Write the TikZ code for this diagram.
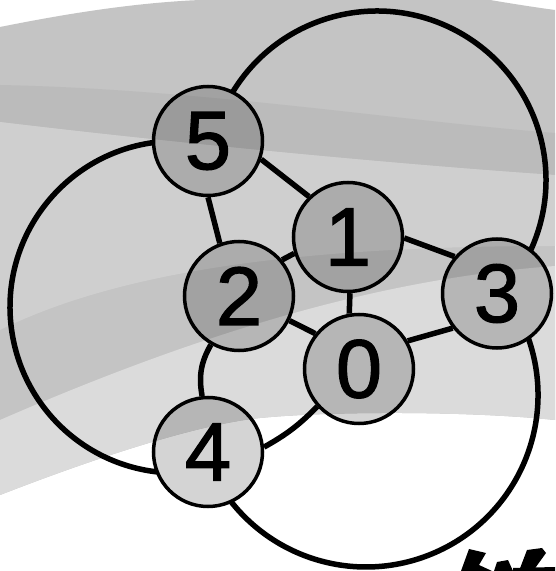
\documentclass[tikz,border=0pt]{standalone}
\usepackage{fontspec}
\setmainfont{Liberation Sans}
\newfontface\numfont[FakeBold=1.5]{Liberation Sans}
\pgfdeclarelayer{bg}
\pgfdeclarelayer{edges}
\pgfsetlayers{bg,edges,main}
\definecolor{cBase}{HTML}{C4C4C4}
\definecolor{cDark}{HTML}{BBBBBB}
\definecolor{cLight}{HTML}{CFCFCF}
\definecolor{cPale}{HTML}{DBDBDB}
\begin{document}
\begin{tikzpicture}[x=1pt,y=1pt,
  num/.style={circle, draw=black, line width=3.5pt, fill=black, fill opacity=0.17,
    text opacity=1, minimum size=109pt, inner sep=0pt,
    font=\numfont\fontsize{83}{83}\selectfont},
  link/.style={line width=5.5pt, draw=black},
  glyph/.style={fill=black}]
\useasboundingbox (0,0) rectangle (555,571);

% nodes
\node[num] (n5) at (208,430) {5};
\node[num] (n1) at (348,334) {1};
\node[num] (n3) at (497,277.5) {3};
\node[num] (n2) at (239,275) {2};
\node[num] (n0) at (359,202) {0};
\node[num] (n4) at (208,119) {4};

% centres of the large arcs
\coordinate (cT) at (377,391);
\coordinate (cL) at (176,264);
\coordinate (cB) at (366,176);

\begin{pgfonlayer}{bg}
  \fill[white] (0,0) rectangle (555,571);
  \fill[cBase] (0,544) .. controls (60,556) and (130,568) .. (200,571)
    -- (490,571) .. controls (520,566) and (540,563) .. (555,561)
    -- (555,151) .. controls (470,160) and (330,160) .. (260,153)
    .. controls (200,147) and (100,115) .. (0,76) -- cycle;
  \fill[cDark] (0,486) .. controls (200,482) and (400,450) .. (555,438)
    -- (555,396) .. controls (420,405) and (200,425) .. (0,449) -- cycle;
  \fill[cLight] (0,449) .. controls (200,425) and (420,405) .. (555,396)
    -- (555,325) .. controls (300,325) and (120,300) .. (0,241) -- cycle;
  \fill[cPale] (555,305) .. controls (420,295) and (250,260) .. (0,151)
    -- (0,76) .. controls (100,115) and (200,147) .. (260,153)
    .. controls (330,160) and (470,160) .. (555,151) -- cycle;
\end{pgfonlayer}

\begin{pgfonlayer}{edges}
  \draw[link] (n5.-19) -- (n1.134);
  \draw[link] (n5.-90) -- (n2.110);
  \draw[link] (n2.40) -- (n1.197);
  \draw[link] (n1.-88) -- (n0.100);
  \draw[link] (n1.-1) -- (n3.139);
  \draw[link] (n2.-26) -- (n0.141);
  \draw[link] (n0.30) -- (n3.-142);
  \draw[link] (n2.-120) to[bend right=20] (n4.96);
  \draw[link] (n0.-138) to[bend left=8] (n4.5);
  \draw[link] ([shift={(148.8:169)}]cT) arc[start angle=148.8, end angle=-24.6, radius=169];
  \draw[link] ([shift={(97.8:166)}]cL) arc[start angle=97.8, end angle=263.4, radius=166];
  \draw[link] ([shift={(19.4:172)}]cB) arc[start angle=19.4, end angle=-141.4, radius=172];
\end{pgfonlayer}

% cropped glyph at the lower right
\fill[glyph] (469,22) -- (486,18) -- (479,6) -- (492,0) -- (461,0) -- cycle;
\fill[glyph] (497,9) -- (508,11) -- (513,0) -- (494,0) -- cycle;
\fill[glyph] (527,21) -- (542,23) -- (546,18) -- (533,0) -- (519,0) -- cycle;
\fill[glyph] (513,3) -- (555,4) -- (555,0) -- (513,0) -- cycle;
\end{tikzpicture}
\end{document}
